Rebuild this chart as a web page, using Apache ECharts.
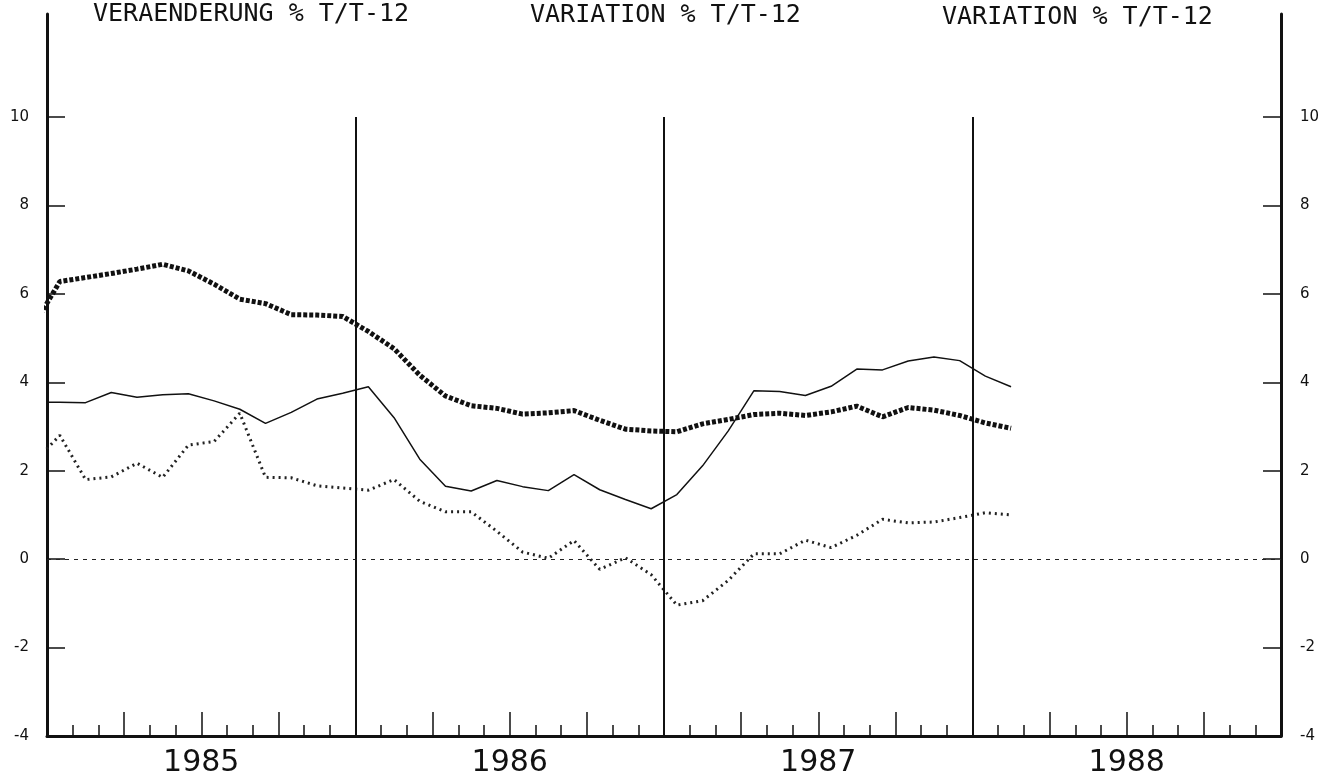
<!DOCTYPE html>
<html>
<head>
<meta charset="utf-8">
<script src="https://cdn.jsdelivr.net/npm/echarts@6/dist/echarts.min.js"></script>
<style>
    html, body { margin: 0; padding: 0; background: #fff; }
    #chart { width: 1326px; height: 783px; }
</style>
</head>
<body>
<div id="chart"></div>
<script>
// monthly values, Dec 1984 .. Feb 1988 (first one only feeds the edge, clipped at the axis)
const first_month = -1; // Dec 1984, relative to Jan 1985
const years = ["1985", "1986", "1987", "1988"];
const y_ticks = [-4, -2, 0, 2, 4, 6, 8, 10];
const titles = ["VERAENDERUNG % T/T-12", "VARIATION % T/T-12", "VARIATION % T/T-12"];

const thick_dotted = [
    5.3,
    6.28, 6.37, 6.46, 6.56, 6.67, 6.52, 6.22, 5.88, 5.78, 5.53, 5.52, 5.49,
    5.15, 4.76, 4.16, 3.69, 3.47, 3.41, 3.28, 3.31, 3.36, 3.14, 2.94, 2.9,
    2.88, 3.06, 3.16, 3.27, 3.3, 3.25, 3.33, 3.46, 3.22, 3.43, 3.37, 3.25,
    3.08, 2.96,
];
const solid = [
    3.55,
    3.55, 3.54, 3.77, 3.66, 3.72, 3.74, 3.58, 3.39, 3.07, 3.32, 3.62, 3.75,
    3.9, 3.2, 2.26, 1.65, 1.54, 1.78, 1.64, 1.55, 1.91, 1.57, 1.35, 1.14,
    1.46, 2.11, 2.9, 3.81, 3.79, 3.7, 3.91, 4.3, 4.28, 4.48, 4.57, 4.49,
    4.14, 3.9,
];
const crosses = [
    2.2,
    2.8, 1.8, 1.86, 2.17, 1.85, 2.58, 2.66, 3.3, 1.85, 1.84, 1.66, 1.61,
    1.56, 1.8, 1.31, 1.07, 1.07, 0.63, 0.16, 0.02, 0.42, -0.23, 0.03, -0.35,
    -1.04, -0.94, -0.48, 0.12, 0.12, 0.43, 0.26, 0.54, 0.9, 0.82, 0.84, 0.94,
    1.05, 1.0,
];

// points sit in the middle of their month
const to_points = (vals) => vals.map((v, i) => [first_month + i + 0.5, v]);

const months_total = years.length * 12;
const y_min = -4;
const y_max = 12.33; // axis line runs above the last label

const y_axis_base = {
    type: "value",
    min: y_min,
    max: y_max,
    interval: 2,
    splitLine: { show: false },
    axisLine: { show: true, lineStyle: { color: "#111", width: 3 } },
    axisTick: {
        show: true,
        inside: true,
        length: 18,
        customValues: y_ticks,
        lineStyle: { color: "#111", width: 1.5 },
    },
};

const chart = echarts.init(document.getElementById("chart"), null, { renderer: "canvas" });

const title_style = {
    fontFamily: "DejaVu Sans Mono",
    fontSize: 25,
    fontWeight: "normal",
    color: "#111",
};

chart.setOption({
    animation: false,
    backgroundColor: "#fff",
    title: [
        { text: titles[0], left: 93, top: 2, padding: 0, textStyle: title_style },
        { text: titles[1], left: 530, top: 3, padding: 0, textStyle: title_style },
        { text: titles[2], left: 942, top: 5, padding: 0, textStyle: title_style },
    ],
    grid: { left: 47, right: 45, top: 14, bottom: 47 },
    xAxis: {
        type: "value",
        min: 0,
        max: months_total,
        interval: 3,
        splitLine: { show: false },
        axisLine: { show: true, onZero: false, lineStyle: { color: "#111", width: 3 } },
        axisTick: { show: true, inside: true, length: 24, lineStyle: { color: "#111", width: 1.5 } },
        minorTick: { show: true, splitNumber: 3, length: 11, lineStyle: { color: "#111", width: 1.5 } },
        axisLabel: {
            customValues: years.map((_, k) => k * 12 + 6),
            formatter: (v) => years[Math.floor(v / 12)],
            margin: 12,
            fontFamily: "DejaVu Sans",
            fontSize: 30,
            color: "#111",
        },
    },
    yAxis: [
        {
            ...y_axis_base,
            position: "left",
            axisLabel: {
                customValues: y_ticks,
                margin: 18,
                fontFamily: "DejaVu Sans",
                fontSize: 15,
                color: "#111",
            },
        },
        {
            ...y_axis_base,
            position: "right",
            axisLabel: {
                customValues: y_ticks,
                margin: 19,
                fontFamily: "DejaVu Sans",
                fontSize: 15,
                color: "#111",
            },
        },
    ],
    series: [
        {
            type: "line",
            data: to_points(thick_dotted),
            showSymbol: false,
            clip: true,
            lineStyle: { color: "#111", width: 5, type: [4, 2], cap: "butt" },
            markLine: {
                silent: true,
                symbol: "none",
                label: { show: false },
                data: [
                    // year boundaries, up to the 10 level
                    ...years.slice(1).map((_, k) => [
                        { coord: [(k + 1) * 12, y_min], lineStyle: { type: "solid", width: 2, color: "#111" } },
                        { coord: [(k + 1) * 12, 10] },
                    ]),
                    { yAxis: 0, lineStyle: { type: [4, 5], width: 1, color: "#222" } },
                ],
            },
        },
        {
            type: "line",
            data: to_points(solid),
            showSymbol: false,
            clip: true,
            lineStyle: { color: "#111", width: 1.5 },
        },
        {
            type: "line",
            data: to_points(crosses),
            showSymbol: false,
            clip: true,
            lineStyle: { color: "#222", width: 3, type: [2, 4], cap: "butt" },
        },
    ],
});
</script>
</body>
</html>
